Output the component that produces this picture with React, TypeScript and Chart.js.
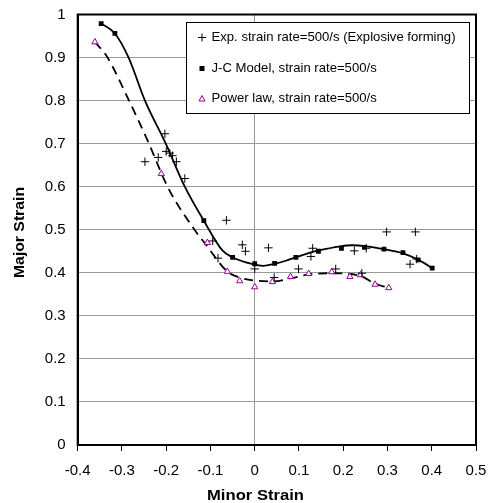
import React, { useEffect, useRef } from 'react';
import { Chart, registerables } from 'chart.js';
Chart.register(...registerables);

// Experimental points (plus markers)
const expX = [-0.248, -0.218, -0.203, -0.200, -0.192, -0.186, -0.177, -0.158, -0.095, -0.083, -0.064, -0.028, -0.021, 0.0, 0.031, 0.044, 0.099, 0.127, 0.131, 0.183, 0.225, 0.242, 0.252, 0.298, 0.351, 0.363, 0.366];
const expY = [0.658, 0.668, 0.723, 0.682, 0.678, 0.672, 0.658, 0.619, 0.474, 0.434, 0.522, 0.465, 0.450, 0.409, 0.458, 0.389, 0.409, 0.438, 0.457, 0.409, 0.451, 0.399, 0.457, 0.495, 0.420, 0.495, 0.432];

// J-C model points (square markers)
const jcX = [-0.347, -0.316, -0.115, -0.050, 0.0, 0.045, 0.093, 0.144, 0.196, 0.248, 0.292, 0.335, 0.369, 0.401];
const jcY = [0.979, 0.956, 0.521, 0.436, 0.421, 0.422, 0.436, 0.450, 0.457, 0.459, 0.455, 0.447, 0.430, 0.411];

// J-C smooth curve (solid line)
const jcCurveX = [-0.347, -0.316, -0.285, -0.248, -0.201, -0.158, -0.115, -0.073, -0.050, -0.020, 0.0, 0.020, 0.045, 0.070, 0.093, 0.120, 0.150, 0.190, 0.220, 0.250, 0.290, 0.335, 0.370, 0.401];
const jcCurveY = [0.979, 0.956, 0.900, 0.800, 0.700, 0.600, 0.521, 0.452, 0.436, 0.424, 0.419, 0.416, 0.421, 0.428, 0.436, 0.445, 0.453, 0.461, 0.464, 0.462, 0.455, 0.445, 0.430, 0.411];

// Power law points (triangle markers)
const plX = [-0.361, -0.211, -0.107, -0.062, -0.034, 0.0, 0.040, 0.081, 0.122, 0.174, 0.215, 0.239, 0.272, 0.303];
const plY = [0.936, 0.630, 0.470, 0.403, 0.381, 0.367, 0.379, 0.391, 0.398, 0.402, 0.391, 0.395, 0.373, 0.365];

// Power law smooth curve (dashed line)
const plCurveX = [-0.361, -0.335, -0.284, -0.239, -0.197, -0.136, -0.110, -0.062, -0.030, 0.0, 0.040, 0.085, 0.120, 0.180, 0.240, 0.272, 0.303];
const plCurveY = [0.936, 0.904, 0.800, 0.700, 0.600, 0.500, 0.465, 0.403, 0.388, 0.382, 0.380, 0.388, 0.396, 0.399, 0.392, 0.375, 0.365];

const legendLabels = [
  'Exp. strain rate=500/s (Explosive forming)',
  'J-C Model, strain rate=500/s',
  'Power law, strain rate=500/s',
];
const xTitle = 'Minor Strain';
const yTitle = 'Major Strain';

const FONT = "'Liberation Sans', Arial, Helvetica, sans-serif";
const PURPLE = '#990099';

const toPts = (xs: number[], ys: number[]) => xs.map((x, i) => ({ x, y: ys[i] }));

const overlayPlugin = {
  id: 'overlay',
  afterDraw(chart: any) {
    const ctx = chart.ctx;
    const a = chart.chartArea;
    ctx.save();
    // plot border
    ctx.strokeStyle = '#000';
    ctx.lineWidth = 2;
    ctx.strokeRect(a.left, a.top, a.right - a.left, a.bottom - a.top);

    // axis titles
    ctx.fillStyle = '#000';
    ctx.font = `bold 15px ${FONT}`;
    ctx.textAlign = 'center';
    ctx.textBaseline = 'middle';
    const wx = ctx.measureText(xTitle).width;
    ctx.save();
    ctx.translate(255.5, 496);
    ctx.scale(97 / wx, 1);
    ctx.fillText(xTitle, 0, 0);
    ctx.restore();
    const wy = ctx.measureText(yTitle).width;
    ctx.save();
    ctx.translate(19.5, 232.5);
    ctx.rotate(-Math.PI / 2);
    ctx.scale(91 / wy, 1);
    ctx.fillText(yTitle, 0, 0);
    ctx.restore();

    // legend
    const bx = 186, by = 22, bw = 283, bh = 91;
    ctx.fillStyle = '#fff';
    ctx.fillRect(bx, by, bw, bh);
    ctx.strokeStyle = '#000';
    ctx.lineWidth = 1;
    ctx.strokeRect(bx + 0.5, by + 0.5, bw, bh);
    ctx.font = `13.5px ${FONT}`;
    ctx.textAlign = 'left';
    const sx = 244 / ctx.measureText(legendLabels[0]).width;
    const rows = [37.5, 68.5, 98.5];
    const mx = 202, tx = 211.5;
    rows.forEach((ry, i) => {
      ctx.fillStyle = '#000';
      ctx.save();
      ctx.translate(tx, ry);
      ctx.scale(sx, 1);
      ctx.fillText(legendLabels[i], 0, 0);
      ctx.restore();
      if (i === 0) {
        ctx.strokeStyle = '#000';
        ctx.lineWidth = 1;
        ctx.beginPath();
        ctx.moveTo(mx - 4, ry); ctx.lineTo(mx + 4, ry);
        ctx.moveTo(mx, ry - 4); ctx.lineTo(mx, ry + 4);
        ctx.stroke();
      } else if (i === 1) {
        ctx.fillStyle = '#000';
        ctx.fillRect(mx - 2.5, ry - 2.5, 5, 5);
      } else {
        ctx.strokeStyle = PURPLE;
        ctx.lineWidth = 1;
        ctx.beginPath();
        ctx.moveTo(mx, ry - 3);
        ctx.lineTo(mx + 3, ry + 2.5);
        ctx.lineTo(mx - 3, ry + 2.5);
        ctx.closePath();
        ctx.stroke();
      }
    });
    ctx.restore();
  },
};

export default function App() {
  const ref = useRef<HTMLCanvasElement | null>(null);
  useEffect(() => {
    if (!ref.current) return;
    const chart = new Chart(ref.current, {
      type: 'scatter',
      data: {
        datasets: [
          {
            label: legendLabels[0],
            data: toPts(expX, expY),
            pointStyle: 'cross',
            pointRadius: 4.2,
            borderColor: '#000',
            borderWidth: 1,
            showLine: false,
            order: 1,
          },
          {
            label: legendLabels[1],
            data: toPts(jcX, jcY),
            pointStyle: 'rect',
            pointRadius: 3.4,
            backgroundColor: '#000',
            borderColor: '#000',
            borderWidth: 0,
            showLine: false,
            order: 2,
          },
          {
            label: legendLabels[2],
            data: toPts(plX, plY),
            pointStyle: 'triangle',
            pointRadius: 3.6,
            backgroundColor: '#fff',
            borderColor: PURPLE,
            borderWidth: 1,
            showLine: false,
            order: 3,
          },
          {
            label: 'J-C curve',
            data: toPts(jcCurveX, jcCurveY),
            showLine: true,
            pointRadius: 0,
            borderColor: '#000',
            borderWidth: 1.8,
            cubicInterpolationMode: 'monotone',
            order: 4,
          },
          {
            label: 'Power law curve',
            data: toPts(plCurveX, plCurveY),
            showLine: true,
            pointRadius: 0,
            borderColor: '#000',
            borderWidth: 1.8,
            borderDash: [9, 6],
            cubicInterpolationMode: 'monotone',
            order: 5,
          },
        ] as any,
      },
      options: {
        animation: false,
        responsive: false,
        maintainAspectRatio: false,
        layout: { padding: { left: 0, top: 14.5, right: 15, bottom: 0 } },
        plugins: {
          legend: { display: false },
          tooltip: { enabled: false },
        },
        scales: {
          x: {
            type: 'linear',
            min: -0.4,
            max: 0.5,
            afterFit: (s: any) => {
              s.height = 58;
              s.paddingLeft = 0; s.paddingRight = 0;
              s.paddingTop = 0; s.paddingBottom = 0;
            },
            ticks: {
              stepSize: 0.1,
              color: '#000',
              font: { family: FONT, size: 15 },
              padding: 11,
              maxRotation: 0,
              callback: (v: any) => String(Number(Number(v).toFixed(1))),
            },
            grid: {
              color: (c: any) => (c.tick && Math.abs(c.tick.value) < 1e-9 ? '#999' : 'rgba(0,0,0,0)'),
              tickColor: '#000',
              tickLength: 6,
              drawTicks: true,
            },
            border: { display: true, color: '#000', width: 2 },
          },
          y: {
            type: 'linear',
            min: 0,
            max: 1,
            afterFit: (s: any) => {
              s.width = 77.7;
              s.paddingLeft = 0; s.paddingRight = 0;
              s.paddingTop = 0; s.paddingBottom = 0;
            },
            ticks: {
              stepSize: 0.1,
              color: '#000',
              font: { family: FONT, size: 15 },
              padding: 12,
              callback: (v: any) => String(Number(Number(v).toFixed(1))),
            },
            grid: {
              color: '#999',
              drawTicks: false,
            },
            border: { display: true, color: '#000', width: 2 },
          },
        },
      },
      plugins: [overlayPlugin],
    });
    return () => chart.destroy();
  }, []);
  return (
    <div style={{ position: 'fixed', left: 0, top: 0, width: 491, height: 503, background: '#fff' }}>
      <canvas ref={ref} width={491} height={503} style={{ display: 'block', width: 491, height: 503 }} />
    </div>
  );
}
